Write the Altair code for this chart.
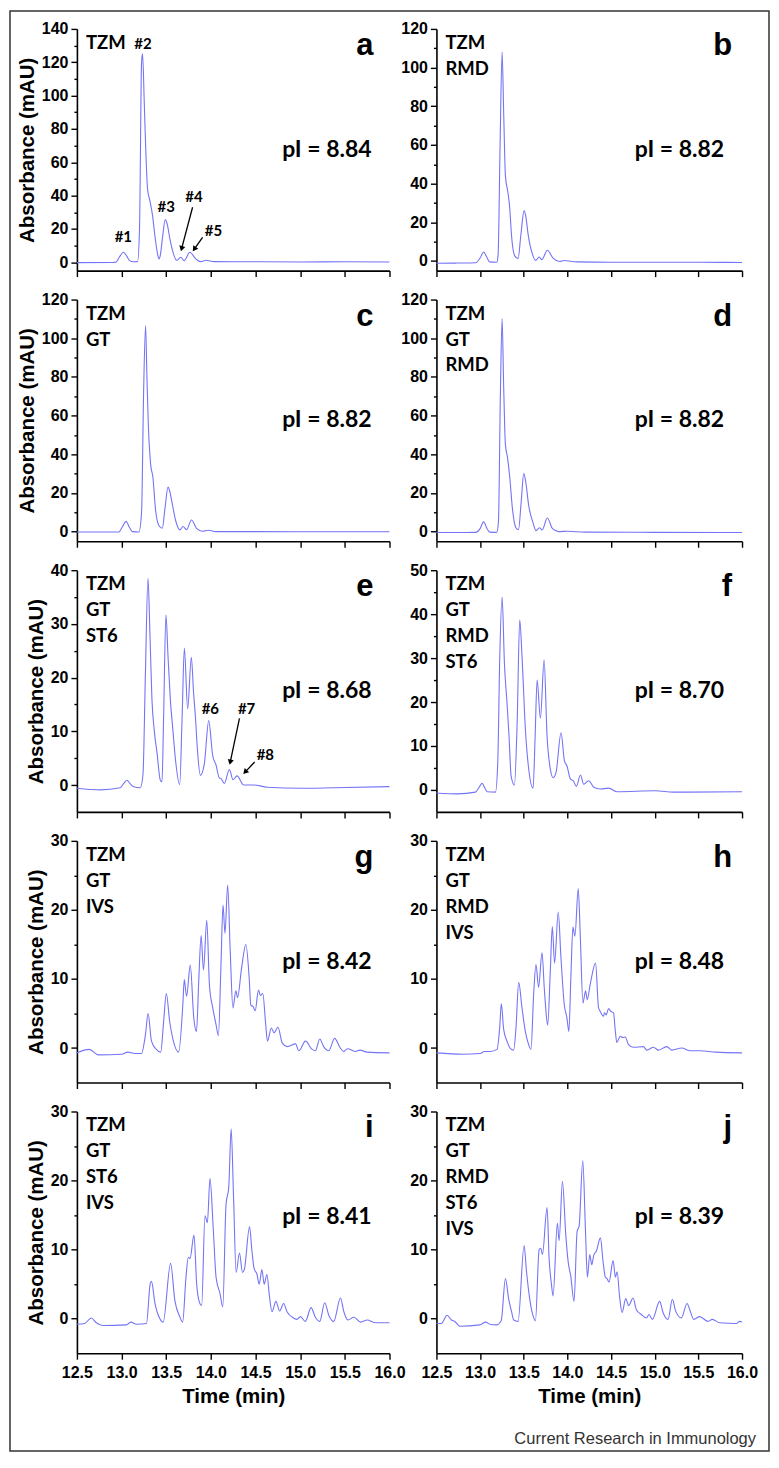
import math
import altair as alt
import pandas as pd

# ---------------- data (time in min, absorbance in mAU) ----------------
PANEL_A = [(12.5, -0.2), (12.9, -0.1), (12.94, 0.2), (12.98, 3.5), (13.02, 6.0), (13.06, 3.5), (13.09, 1.0),
           (13.13, 0.3), (13.179, 0.4), (13.201, 20), (13.224, 120), (13.235, 125), (13.254, 96), (13.272, 66),
           (13.291, 44), (13.317, 37), (13.347, 28), (13.373, 16), (13.403, 5), (13.42, 2), (13.433, 4),
           (13.459, 15), (13.489, 25.6), (13.515, 22), (13.541, 14), (13.571, 7), (13.616, 1.2), (13.664, 3),
           (13.70, 1), (13.765, 6), (13.832, 2), (13.888, 0.4), (13.944, 1.2), (14.037, 0.4), (14.5, 0.3),
           (15.0, 0.2), (15.5, 0.3), (16.0, 0.2)]
PANEL_B = [(12.5, -1.2), (12.74, -1.1), (12.95, -0.9), (13.0, 1.5), (13.042, 4.6), (13.076, 2.0), (13.11, -0.5),
           (13.19, -0.7), (13.206, 3), (13.229, 60), (13.252, 108), (13.271, 75), (13.29, 44), (13.32, 35),
           (13.34, 27), (13.359, 13.7), (13.397, 2.6), (13.435, 1.2), (13.466, 13), (13.504, 26), (13.527, 22),
           (13.55, 13.7), (13.60, 3.4), (13.637, 0.3), (13.676, 2.0), (13.706, 0.7), (13.771, 5.5),
           (13.836, 1.4), (13.912, -0.3), (13.96, 0.2), (14.11, -0.5), (14.5, -0.7), (15.0, -0.7),
           (15.5, -0.7), (16.0, -0.8)]
PANEL_C = [(12.5, -0.2), (12.97, -0.2), (13.01, 2.5), (13.05, 5.3), (13.09, 2.0), (13.12, 0.0), (13.194, -0.2),
           (13.224, 10), (13.246, 70), (13.269, 106.5), (13.284, 80), (13.30, 55), (13.325, 35), (13.351, 28),
           (13.381, 11), (13.419, 3), (13.456, 1.7), (13.486, 12), (13.52, 23), (13.539, 21), (13.561, 16),
           (13.606, 5.6), (13.652, 0.9), (13.689, 2.6), (13.727, 1.0), (13.783, 6.0), (13.839, 1.7),
           (13.907, 0.2), (13.974, 0.7), (14.056, 0.0), (15.0, -0.1), (16.0, -0.1)]
PANEL_D = [(12.5, -0.5), (12.95, -0.4), (13.0, 1.5), (13.04, 5.0), (13.08, 1.5), (13.11, -0.3), (13.19, -0.4),
           (13.21, 5), (13.232, 70), (13.252, 110), (13.27, 75), (13.29, 45), (13.315, 38), (13.34, 28),
           (13.37, 12), (13.41, 2), (13.44, 1.0), (13.47, 15), (13.50, 30), (13.525, 25), (13.555, 14),
           (13.61, 4), (13.64, 0.5), (13.68, 2), (13.71, 0.8), (13.77, 7), (13.83, 1.5), (13.9, 0.0),
           (14.0, 0.2), (14.2, -0.3), (15.0, -0.4), (16.0, -0.5)]
PANEL_E = [(12.5, -0.6), (12.76, -0.9), (12.986, -0.5), (13.02, 0.2), (13.06, 0.9), (13.098, 0.2),
           (13.135, -0.3), (13.21, -0.5), (13.24, 2), (13.266, 20), (13.296, 38.5), (13.318, 28), (13.34, 16),
           (13.367, 10), (13.397, 6), (13.434, 0.9), (13.453, 0.6), (13.47, 12), (13.497, 31.7), (13.52, 24),
           (13.546, 16), (13.576, 10), (13.602, 5), (13.651, 0.1), (13.677, 12), (13.703, 25.5), (13.74, 14.2),
           (13.781, 23.8), (13.807, 17), (13.826, 12.9), (13.852, 6), (13.882, 1.8), (13.927, 4), (13.976, 12),
           (14.02, 5.5), (14.058, 3.7), (14.095, 1.3), (14.114, 1.2), (14.151, 0.3), (14.207, 2.9),
           (14.248, 1.0), (14.293, 1.7), (14.368, 0.0), (14.48, 0.0), (14.63, -0.4), (15.0, -0.6),
           (15.376, -0.5), (16.0, -0.3)]
PANEL_F = [(12.5, -0.7), (12.737, -0.9), (12.947, -0.5), (12.985, 0.5), (13.023, 1.5), (13.053, 0.5),
           (13.08, -0.4), (13.176, -0.5), (13.202, 6), (13.225, 30), (13.252, 43.9), (13.279, 28.6),
           (13.309, 19.6), (13.332, 12), (13.355, 3.2), (13.393, 1.1), (13.424, 15), (13.454, 38.7),
           (13.481, 30), (13.519, 13.7), (13.557, 4.7), (13.607, 0.4), (13.63, 12), (13.653, 25),
           (13.691, 16.3), (13.733, 29.6), (13.767, 12.2), (13.805, 4.7), (13.836, 2.8), (13.87, 4),
           (13.927, 13), (13.966, 6.6), (13.996, 5.4), (14.034, 2.5), (14.065, 2.1), (14.103, 0.8),
           (14.149, 3.4), (14.187, 1.3), (14.244, 2.1), (14.302, 0.6), (14.378, 0.2), (14.473, 0.4),
           (14.569, -0.4), (15.008, -0.2), (15.218, -0.5), (16.0, -0.4)]
PANEL_G = [(12.5, -0.7), (12.637, -0.2), (12.741, -1.0), (13.001, -0.9), (13.068, -0.6), (13.149, -0.8),
           (13.223, -0.8), (13.268, 2), (13.297, 5), (13.335, 1), (13.39, -0.2), (13.438, -0.6), (13.472, 4),
           (13.501, 7.9), (13.539, 3.8), (13.576, 1.2), (13.639, -0.6), (13.687, 6.5), (13.702, 9.9),
           (13.728, 7.5), (13.769, 12), (13.809, 4.3), (13.839, 2.4), (13.865, 10), (13.891, 16.3),
           (13.917, 11.3), (13.954, 18.5), (13.984, 9.1), (14.021, 5.8), (14.058, 3.4), (14.084, 1.8),
           (14.113, 12), (14.136, 20.7), (14.158, 16.6), (14.188, 23.6), (14.217, 13.9), (14.247, 5.8),
           (14.28, 8.3), (14.299, 7.3), (14.343, 11.5), (14.392, 15), (14.429, 10.1), (14.447, 6.2),
           (14.473, 6), (14.496, 5.4), (14.533, 8.4), (14.555, 7.6), (14.581, 7.9), (14.614, 3.4),
           (14.633, 1), (14.677, 2.9), (14.707, 2.2), (14.751, 3), (14.8, 0.7), (14.855, 0.2), (14.948, 0.6),
           (14.985, -0.4), (15.059, 1), (15.134, -0.2), (15.171, -0.4), (15.219, 1.3), (15.263, 0.2),
           (15.319, -0.4), (15.386, 1.4), (15.449, 0.0), (15.486, -0.5), (15.53, -0.1), (15.616, -0.5),
           (15.671, -0.3), (15.746, -0.6), (16.0, -0.7)]
PANEL_H = [(12.5, -0.7), (12.8, -0.9), (13.0, -0.8), (13.05, -0.5), (13.118, -0.5), (13.194, -0.2),
           (13.224, 2.9), (13.243, 6.4), (13.27, 2.7), (13.308, 1.0), (13.346, -0.05), (13.384, -0.3),
           (13.411, 2.9), (13.442, 9.5), (13.48, 5.8), (13.518, 2.4), (13.556, 0.5), (13.583, -0.2),
           (13.613, 7.7), (13.64, 12.1), (13.67, 8.8), (13.709, 13.8), (13.735, 8.7), (13.758, 4.8),
           (13.774, 3.3), (13.804, 11.1), (13.827, 17.6), (13.853, 12.3), (13.895, 19.7), (13.926, 13.1),
           (13.964, 6.3), (13.994, 4.4), (14.017, 2.4), (14.04, 10.4), (14.063, 17.5), (14.086, 16.2),
           (14.124, 23.1), (14.147, 16.4), (14.178, 6.5), (14.208, 8.3), (14.227, 7.0), (14.261, 9.2),
           (14.322, 12.3), (14.357, 5.8), (14.376, 5.3), (14.414, 4.6), (14.425, 5.1), (14.444, 4.8),
           (14.471, 5.7), (14.498, 5.3), (14.528, 5.1), (14.547, 2.7), (14.566, 0.8), (14.605, 1.7),
           (14.635, 1.5), (14.662, 1.6), (14.7, 0.5), (14.757, 0.1), (14.871, 0.2), (14.909, -0.3),
           (14.986, 0.1), (15.043, -0.3), (15.138, 0.2), (15.196, -0.3), (15.31, 0.0), (15.406, -0.4),
           (15.52, -0.4), (15.7, -0.6), (16.0, -0.7)]
PANEL_I = [(12.5, -0.8), (12.586, -0.7), (12.661, 0.1), (12.717, -0.6), (12.792, -1.0), (13.054, -0.9),
           (13.103, -0.5), (13.167, -0.8), (13.279, -0.7), (13.32, 5.0), (13.335, 5.4), (13.373, 2.3),
           (13.429, 0.0), (13.466, -0.5), (13.549, 8.0), (13.597, 2.6), (13.654, 0.2), (13.684, -0.5),
           (13.721, 6.0), (13.747, 8.9), (13.766, 8.7), (13.811, 12.1), (13.841, 5.0), (13.871, 2.4),
           (13.897, 1.9), (13.934, 14.9), (13.961, 13.9), (13.99, 20.3), (14.028, 12.7), (14.058, 6.0),
           (14.103, 3.6), (14.133, 1.7), (14.17, 16.6), (14.2, 19.0), (14.227, 27.5), (14.253, 18.0),
           (14.283, 6.7), (14.32, 9.5), (14.354, 6.7), (14.376, 7.2), (14.433, 13.3), (14.459, 9.9),
           (14.485, 7.2), (14.515, 6.5), (14.541, 5.0), (14.571, 7.1), (14.597, 5.0), (14.627, 6.4),
           (14.657, 3.1), (14.684, 1.0), (14.728, 2.5), (14.77, 1.1), (14.815, 2.2), (14.852, 1.0),
           (14.927, 0.1), (14.964, -0.1), (15.002, 0.3), (15.058, -0.4), (15.122, 1.6), (15.17, 0.2),
           (15.219, -0.4), (15.275, 2.3), (15.32, 0.5), (15.376, -0.4), (15.451, 3.0), (15.489, 1.0),
           (15.534, -0.2), (15.601, 0.2), (15.676, -0.5), (15.751, -0.2), (15.844, -0.6), (16.0, -0.6)]
PANEL_J = [(12.5, -0.7), (12.557, -0.7), (12.622, 0.5), (12.672, -0.2), (12.71, -0.4), (12.767, -1.1),
           (12.996, -0.9), (13.065, -0.5), (13.111, -0.8), (13.187, -0.9), (13.237, -0.4), (13.244, -0.2),
           (13.29, 5.8), (13.328, 2.8), (13.359, 1.1), (13.385, -0.2), (13.435, -0.4), (13.504, 10.6),
           (13.531, 6.9), (13.569, 2.8), (13.607, 0.4), (13.634, -0.3), (13.676, 10.0), (13.695, 10.2),
           (13.714, 9.3), (13.767, 16.1), (13.79, 8.8), (13.817, 5.0), (13.836, 3.3), (13.885, 13.8),
           (13.905, 11.3), (13.943, 19.9), (13.981, 12.2), (14.008, 8.3), (14.038, 6.2), (14.076, 2.5),
           (14.111, 12.6), (14.134, 13.4), (14.176, 22.9), (14.206, 13.1), (14.229, 6.0), (14.256, 9.3),
           (14.279, 7.8), (14.302, 9.2), (14.332, 9.8), (14.378, 11.7), (14.408, 8.3), (14.435, 6.0),
           (14.454, 5.8), (14.477, 5.3), (14.523, 8.4), (14.55, 6.0), (14.569, 6.8), (14.599, 3.0),
           (14.626, 0.9), (14.668, 2.9), (14.702, 1.9), (14.752, 3.0), (14.79, 1.3), (14.847, 0.6),
           (14.905, 0.1), (14.935, 0.6), (14.973, -0.1), (15.057, 2.5), (15.095, 0.9), (15.153, -0.1),
           (15.202, 2.8), (15.237, 1.2), (15.305, 0.1), (15.37, 2.2), (15.401, 1.3), (15.447, -0.1),
           (15.515, 0.3), (15.611, -0.4), (15.66, -0.1), (15.744, -0.6), (15.935, -0.7), (15.973, -0.4),
           (16.0, -0.5)]

X_TICKS = [12.5, 13.0, 13.5, 14.0, 14.5, 15.0, 15.5, 16.0]

CONDITIONS = {
    "a": ["TZM"], "b": ["TZM", "RMD"], "c": ["TZM", "GT"], "d": ["TZM", "GT", "RMD"],
    "e": ["TZM", "GT", "ST6"], "f": ["TZM", "GT", "RMD", "ST6"], "g": ["TZM", "GT", "IVS"],
    "h": ["TZM", "GT", "RMD", "IVS"], "i": ["TZM", "GT", "ST6", "IVS"], "j": ["TZM", "GT", "RMD", "ST6", "IVS"],
}
PI_TEXT = {"a": "pI = 8.84", "b": "pI = 8.82", "c": "pI = 8.82", "d": "pI = 8.82", "e": "pI = 8.68",
           "f": "pI = 8.70", "g": "pI = 8.42", "h": "pI = 8.48", "i": "pI = 8.41", "j": "pI = 8.39"}
Y_MAX = {"a": 140, "b": 120, "c": 120, "d": 120, "e": 40, "f": 50, "g": 30, "h": 30, "i": 30, "j": 30}
Y_STEP = {"a": 20, "b": 20, "c": 20, "d": 20, "e": 10, "f": 10, "g": 10, "h": 10, "i": 10, "j": 10}
DATA = {"a": PANEL_A, "b": PANEL_B, "c": PANEL_C, "d": PANEL_D, "e": PANEL_E,
        "f": PANEL_F, "g": PANEL_G, "h": PANEL_H, "i": PANEL_I, "j": PANEL_J}

PEAK_LABELS = {"a": [("#1", 13.02, 12), ("#2", 13.24, 128), ("#3", 13.50, 30.4), ("#4", 13.81, 36), ("#5", 14.03, 16)],
               "e": [("#6", 13.994, 13.2), ("#7", 14.40, 13.2), ("#8", 14.61, 4.7)]}
ARROWS = {"a": [(13.795, 33, 13.664, 6.4), (13.907, 15, 13.795, 6.4)],
          "e": [(14.32, 12.4, 14.21, 3.7), (14.49, 4.3, 14.36, 2.0)]}

SOURCE = "Current Research in Immunology"

# ---------------- styling ----------------
LINE_COLOR = "#7474F6"
W_LEFT, W_RIGHT, H = 313, 306, 242
YMIN = -5
LABEL_FONT = "Lato"
AXIS_FONT = "Liberation Sans"


def make_panel(key, col, bottom):
    W = W_LEFT if col == 0 else W_RIGHT
    ymax, step = Y_MAX[key], Y_STEP[key]
    df = pd.DataFrame(DATA[key], columns=["t", "v"])
    xs = alt.Scale(domain=[12.5, 16.0], nice=False, zero=False)
    ys = alt.Scale(domain=[YMIN, ymax], nice=False, zero=False)
    majors = list(range(0, ymax + 1, step))
    minors = [m + step / 2 for m in majors[:-1]]
    if bottom:
        xaxis = alt.Axis(values=X_TICKS, format=".1f", title="Time (min)", tickSize=6,
                         labelPadding=5, titlePadding=6, labelFlush=False, labelOverlap=False)
    else:
        xaxis = alt.Axis(values=X_TICKS, labels=False, title=None, tickSize=6)
    yaxis = alt.Axis(values=majors, title="Absorbance (mAU)" if col == 0 else None,
                     tickSize=6, labelPadding=3, titlePadding=4, labelFlush=False, labelOverlap=False)
    minor_axis = alt.Axis(orient="left", values=minors, labels=False, domain=False,
                          title=None, tickSize=3)
    X = lambda f: alt.X(f, scale=xs, axis=xaxis)
    base = alt.Chart(df)
    line = base.mark_line(color=LINE_COLOR, strokeWidth=1.1, interpolate="monotone").encode(
        x=X("t:Q"), y=alt.Y("v:Q", scale=ys, axis=yaxis))
    minor = base.mark_line(opacity=0).encode(
        x=X("t:Q"), y=alt.Y("v:Q", scale=ys, axis=minor_axis))
    layers = [line, minor]
    one = pd.DataFrame({"k": [0]})

    for i, lab in enumerate(CONDITIONS[key]):
        layers.append(alt.Chart(one).mark_text(
            text=lab, align="left", baseline="alphabetic", font=LABEL_FONT, fontSize=18.5,
            fontWeight="bold", color="black").encode(x=alt.value(9), y=alt.value(20 + 26 * i)))

    pi_y = 113 if key in ("i", "j") else 128
    layers.append(alt.Chart(one).mark_text(
        text=PI_TEXT[key], align="right", baseline="alphabetic", font=LABEL_FONT, fontSize=23,
        fontWeight="bold", color="black").encode(x=alt.value(W - 18), y=alt.value(pi_y)))

    layers.append(alt.Chart(one).mark_text(
        text=key, align="right", baseline="alphabetic", font=AXIS_FONT, fontSize=31,
        fontWeight="bold", color="black").encode(x=alt.value(W - (16 if col == 0 else 10)), y=alt.value(26)))

    if key in PEAK_LABELS:
        pl = pd.DataFrame(PEAK_LABELS[key], columns=["lab", "t", "v"])
        layers.append(alt.Chart(pl).mark_text(
            align="center", baseline="alphabetic", font=LABEL_FONT, fontSize=15,
            fontWeight="bold", color="black").encode(
            x=X("t:Q"), y=alt.Y("v:Q", scale=ys, axis=None), text="lab:N"))

    if key in ARROWS:
        ppx = W / 3.5
        ppy = H / (ymax - YMIN)
        rules, heads = [], []
        for (t0, v0, t1, v1) in ARROWS[key]:
            dx = (t1 - t0) * ppx
            dy = -(v1 - v0) * ppy
            n = math.hypot(dx, dy)
            ang = math.degrees(math.atan2(dx, -dy)) % 360
            back = 3.0
            tc = t1 - back * dx / n / ppx
            vc = v1 + back * dy / n / ppy
            rules.append(dict(t=t0, v=v0, t2=tc, v2=vc))
            heads.append(dict(t=tc, v=vc, ang=ang))
        layers.append(alt.Chart(pd.DataFrame(rules)).mark_rule(color="black", strokeWidth=1.3).encode(
            x=X("t:Q"), y=alt.Y("v:Q", scale=ys, axis=None), x2="t2:Q", y2="v2:Q"))
        layers.append(alt.Chart(pd.DataFrame(heads)).mark_point(
            shape="triangle-up", filled=True, color="black", size=38, opacity=1).encode(
            x=X("t:Q"), y=alt.Y("v:Q", scale=ys, axis=None),
            angle=alt.Angle("ang:Q", scale=None)))

    if key == "a":
        layers.append(alt.Chart(one).mark_rect(fillOpacity=0, stroke="#333333", strokeWidth=1.5).encode(
            x=alt.value(-67), x2=alt.value(693), y=alt.value(-18), y2=alt.value(1424)))

    if key == "j":
        layers.append(alt.Chart(one).mark_text(
            text=SOURCE, align="right", baseline="alphabetic", font=AXIS_FONT, fontSize=16.5,
            fontWeight="normal", color="#333333").encode(x=alt.value(W + 14), y=alt.value(333)))

    return alt.layer(*layers).resolve_axis(y="independent").properties(width=W, height=H)


keys = list("abcdefghij")
panels = [make_panel(k, i % 2, i >= 8) for i, k in enumerate(keys)]

chart = alt.concat(*panels, columns=2, spacing={"row": 29, "column": 47}, bounds="flush").properties(
    padding={"left": 1, "top": 1, "right": 1, "bottom": 1}
).configure_view(strokeWidth=0).configure_axis(
    domainColor="black", domainWidth=1.6, tickColor="black", tickWidth=1.4,
    labelColor="black", titleColor="black", labelFont=AXIS_FONT, titleFont=AXIS_FONT,
    labelFontWeight="bold", titleFontWeight="bold", labelFontSize=16, titleFontSize=20.5, grid=False)

chart.save("out.html", embed_options={"renderer": "svg", "actions": False})
